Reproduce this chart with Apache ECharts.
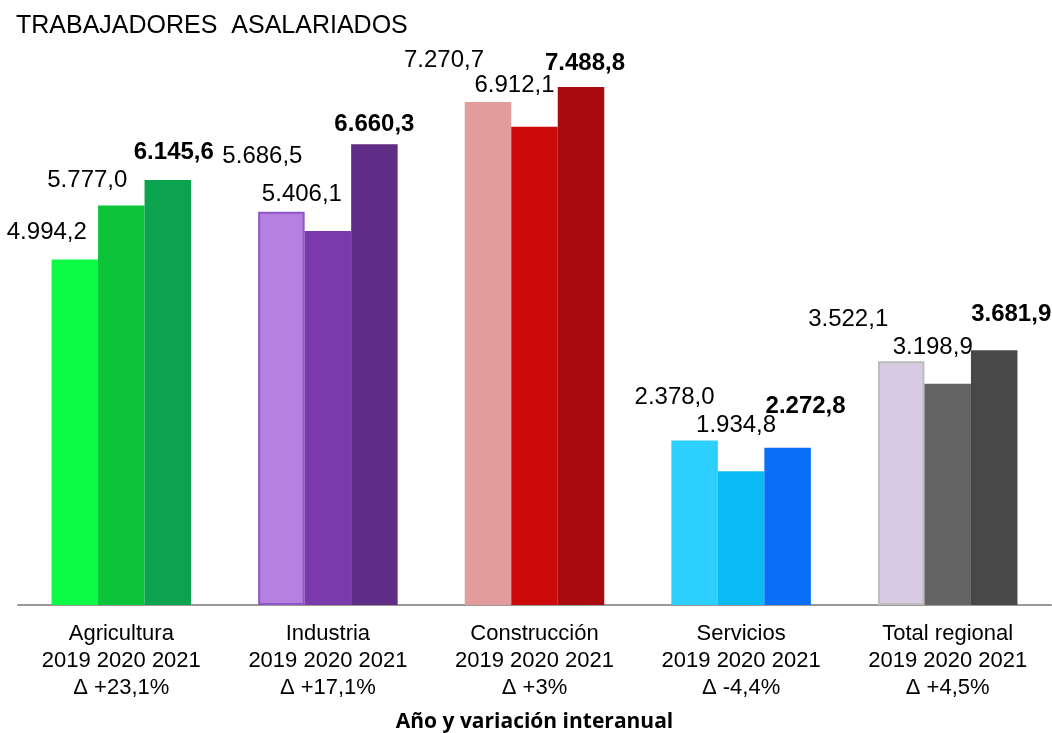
<!DOCTYPE html>
<html>
<head>
<meta charset="utf-8">
<script src="https://cdn.jsdelivr.net/npm/echarts@6/dist/echarts.min.js"></script>
<style>
  html, body { margin: 0; padding: 0; background: #fff; }
  #chart { width: 1052px; height: 733px; }
</style>
</head>
<body>
<div id="chart"></div>
<script>
// data
const categories = ['Agricultura', 'Industria', 'Construcción', 'Servicios', 'Total regional']
const years = ['2019', '2020', '2021']
const deltas = ['Δ +23,1%', 'Δ +17,1%', 'Δ +3%', 'Δ -4,4%', 'Δ +4,5%']
const values2019 = [4994.2, 5686.5, 7270.7, 2378.0, 3522.1]
const values2020 = [5777.0, 5406.1, 6912.1, 1934.8, 3198.9]
const values2021 = [6145.6, 6660.3, 7488.8, 2272.8, 3681.9]

// colours per sector, one list per year
const colors2019 = ['#0dfb45', '#b580e0', '#e39c9c', '#2dcfff', '#d7cbe3']
const colors2020 = ['#0cc43a', '#7a3aab', '#cc0a0a', '#0abbf7', '#646464']
const colors2021 = ['#0ba34f', '#5f2d86', '#a90a0e', '#0a6ef7', '#484848']
const borders2019 = ['#0dfb45', '#8f55c8', '#e39c9c', '#2dcfff', '#bdbdbd']

// label nudges, the labels sit to the upper left in the original
const offsets2019 = [[-28, -15], [-19, -43], [-44, -30], [-20, -31], [-53, -30]]
const offsets2020 = [[-34, -13], [-26, -25], [-20, -29], [-5, -34], [-15, -24]]
const offsets2021 = [[6, -16], [0, -8], [4, -12], [18, -29], [17, -24]]

const fmt = v => {
  const parts = v.toFixed(1).split('.')
  return parts[0].replace(/\B(?=(\d{3})+(?!\d))/g, '.') + ',' + parts[1]
}

const chart = echarts.init(document.getElementById('chart'))

function makeSeries (name, values, colors, offsets, bold, borders) {
  return {
    name: name,
    type: 'bar',
    barWidth: 46.5,
    barGap: '0%',
    data: values.map((v, i) => ({
      value: v,
      itemStyle: {
        color: colors[i],
        borderColor: borders ? borders[i] : colors[i],
        borderWidth: borders ? 2 : 0
      },
      label: { offset: offsets[i] }
    })),
    label: {
      show: true,
      position: 'top',
      distance: 0,
      fontFamily: 'Liberation Sans',
      fontSize: 24,
      lineHeight: 24,
      fontWeight: bold ? 'bold' : 'normal',
      color: '#000',
      formatter: p => fmt(p.value)
    }
  }
}

const options = {
  animation: false,
  title: {
    text: 'TRABAJADORES  ASALARIADOS',
    left: 11,
    top: 9,
    textStyle: {
      fontFamily: 'Liberation Sans',
      fontSize: 25,
      fontWeight: 'normal',
      color: '#000'
    }
  },
  grid: {
    left: 18,
    right: 1,
    top: 51.6,
    bottom: 128,
    outerBoundsMode: 'none'
  },
  xAxis: {
    type: 'category',
    data: categories,
    name: 'Año y variación interanual',
    nameLocation: 'middle',
    nameGap: 107,
    nameTextStyle: {
      fontFamily: 'Open Sans',
      fontSize: 21,
      fontWeight: 'bold',
      color: '#000'
    },
    axisLine: { lineStyle: { color: '#999', width: 2 } },
    axisTick: { length: 7, lineStyle: { color: '#999', width: 2 } },
    axisLabel: {
      interval: 0,
      margin: 15,
      fontFamily: 'Liberation Sans',
      fontSize: 22,
      lineHeight: 27,
      color: '#000',
      formatter: (v, i) => v + '\n' + years.join(' ') + '\n' + deltas[i]
    }
  },
  yAxis: {
    type: 'value',
    min: 0,
    max: 8000,
    show: false
  },
  series: [
    makeSeries(years[0], values2019, colors2019, offsets2019, false, borders2019),
    makeSeries(years[1], values2020, colors2020, offsets2020, false),
    makeSeries(years[2], values2021, colors2021, offsets2021, true)
  ]
}

chart.setOption(options)
</script>
</body>
</html>
